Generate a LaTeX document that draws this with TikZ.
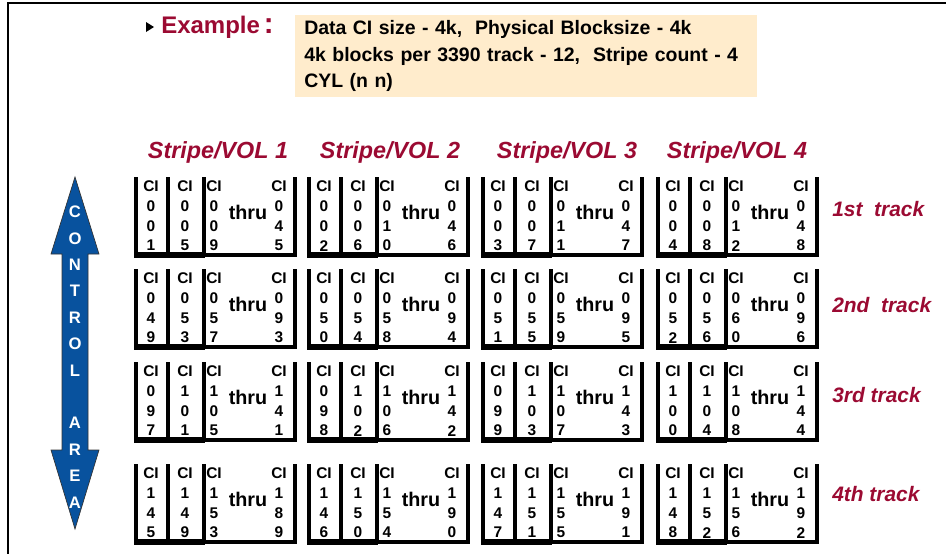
\documentclass[tikz,border=0pt]{standalone}
\usepackage{fontspec}
\setmainfont{Liberation Sans}
\usetikzlibrary{positioning,calc}
\definecolor{stripered}{RGB}{155,10,50}
\definecolor{notefill}{RGB}{255,236,204}
\definecolor{ctrlblue}{RGB}{8,82,158}
\tikzset{
  frame/.style   ={line width=2.2pt, line join=miter},
  wall/.style    ={line width=3.3pt},
  floorthick/.style={line width=4.4pt},
  floorthin/.style ={line width=3pt},
  ci/.style      ={font=\fontsize{11.6}{12}\selectfont\bfseries, inner sep=0pt},
  thru/.style    ={font=\fontsize{14.8}{15}\selectfont\bfseries, inner sep=0pt},
  stripe/.style  ={font=\fontsize{17.5}{18}\selectfont\bfseries\itshape,
                   text=stripered, inner sep=0pt},
  track/.style   ={font=\fontsize{15.7}{16}\selectfont\bfseries\itshape,
                   text=stripered, inner sep=0pt, anchor=west},
  head/.style    ={font=\fontsize{18}{18}\selectfont\bfseries,
                   text=stripered, inner sep=0pt, anchor=west},
  notebox/.style ={fill=notefill, anchor=north west, align=left,
                   font=\fontsize{14.6}{20}\selectfont\bfseries,
                   minimum width=346.5pt, minimum height=61.5pt,
                   text width=333pt, inner xsep=6pt},
  ctrlarrow/.style={fill=ctrlblue, draw=black!80, line width=0.5pt},
  ctrl/.style    ={font=\fontsize{12.5}{13}\selectfont\bfseries,
                   text=white, inner sep=0pt},
}

\begin{document}
\begin{tikzpicture}[x=0.75pt,y=-0.75pt]
  \useasboundingbox (0,0) rectangle (946,554);

  % frame (top and left edge of the slide)
  \draw[frame] (946,3) -- (8,3) -- (8,554);

  % heading
  \fill (146,22) -- (154,27) -- (146,32) -- cycle;
  \node[head] (ex) at (161,27) {Example\,{\fontsize{22}{22}\selectfont:}};
  \node[notebox] (spec) at (295,15)
        {Data CI size - 4k,\ \ Physical Blocksize - 4k\\
         4k blocks per 3390 track - 12,\ \ Stripe count - 4\\
         CYL (n n)};

  % stripe headings
  \foreach \g/\cx in {1/218,2/390,3/567,4/737}
    \node[stripe] (vol\g) at (\cx,152) {Stripe/VOL \g};

  % track labels
  \node[track] (trk1) at (832,209) {1st\ \ track};
  \node[track] (trk2) at (832,305) {2nd\ \ track};
  \node[track] (trk3) at (832,395) {3rd track};
  \node[track] (trk4) at (832,494) {4th track};

  % control area arrow
  \filldraw[ctrlarrow] (75,177) -- (99,254) -- (88,254) -- (88,450) -- (99,450)
        -- (75,529) -- (51,450) -- (62,450) -- (62,254) -- (51,254) -- cycle;
  \foreach \ch/\k in {C/0,O/1,N/2,T/3,R/4,O/5,L/6,A/8,R/9,E/10,A/11}
    \node[ctrl] (ctrl\k) at (75,212+\k*26.4) {\ch};

  % tracks x stripes: three buckets per stripe
  \foreach \r/\ty in {1/177,2/269,3/362,4/464}{
    \foreach \g/\gx in {1/134,2/307,3/481,4/656}{
      \draw[wall] (\gx+2,\ty) -- (\gx+2,\ty+80);
      \draw[wall] (\gx+34,\ty) -- (\gx+34,\ty+79);
      \draw[wall] (\gx+70,\ty) -- (\gx+70,\ty+79);
      \draw[wall] (\gx+161,\ty) -- (\gx+161,\ty+79);
      \draw[floorthick] (\gx,\ty+78) -- (\gx+71,\ty+78);
      \draw[floorthin] (\gx+71,\ty+77.5) -- (\gx+163.2,\ty+77.5);
      \node[thru] (thru-\r-\g) at (\gx+114,\ty+35) {thru};
      \foreach \cx/\add [count=\c] in {17/0,51/4,80/8,145/44}{
        \pgfmathtruncatemacro\num{(\r-1)*48+\g+\add}
        \pgfmathtruncatemacro\dh{\num/100}
        \pgfmathtruncatemacro\dt{mod(\num,100)/10}
        \pgfmathtruncatemacro\du{mod(\num,10)}
        \node[ci] (ci-\r-\g-\c) at (\gx+\cx,\ty+9.5) {CI};
        \node[ci] (h-\r-\g-\c)  at (\gx+\cx,\ty+29.2) {\dh};
        \node[ci] (t-\r-\g-\c)  at (\gx+\cx,\ty+48.9) {\dt};
        \node[ci] (u-\r-\g-\c)  at (\gx+\cx,\ty+68.6) {\du};
      }
    }
  }
\end{tikzpicture}
\end{document}
